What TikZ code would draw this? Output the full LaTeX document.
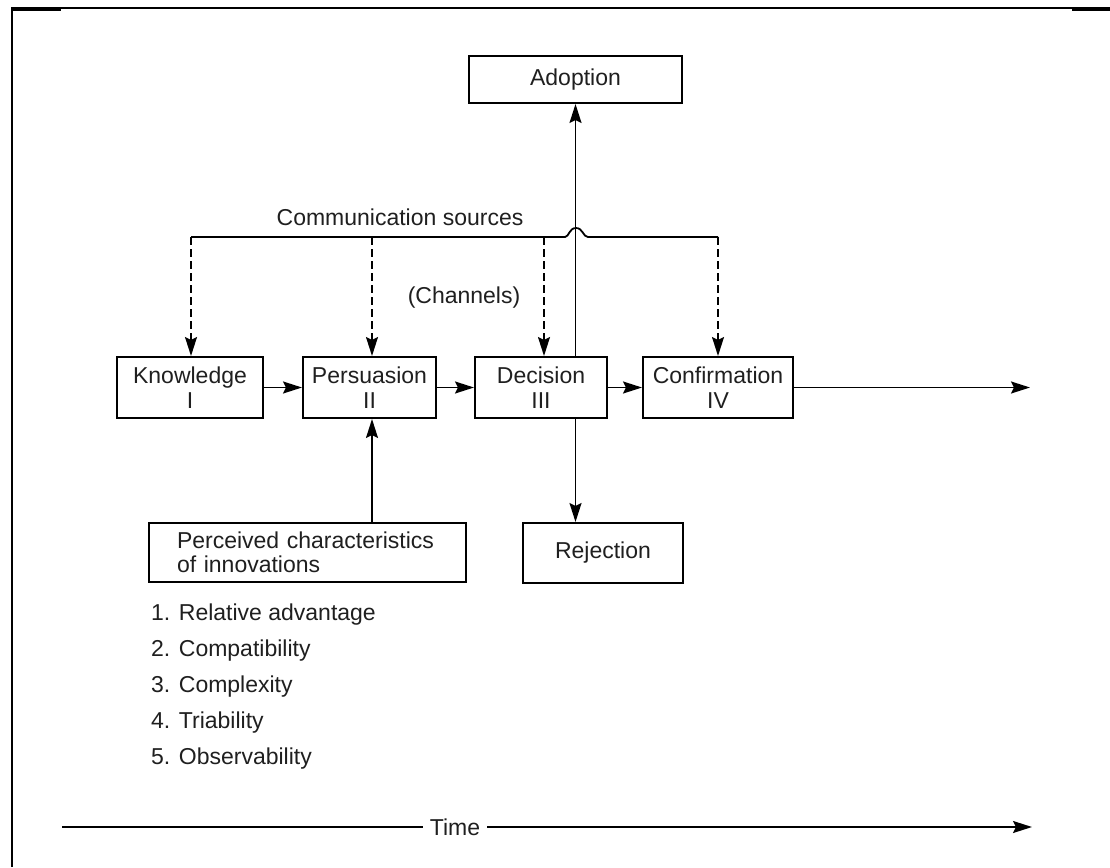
\documentclass[tikz,border=0pt]{standalone}
\usepackage{fontspec}
\setmainfont{Liberation Sans}
\usetikzlibrary{arrows.meta}
\begin{document}
\begin{tikzpicture}[x=1pt,y=-1pt,
  txt/.style={font=\fontsize{23}{25}\selectfont, text=black!88, inner sep=0},
  box/.style={txt, draw=black, line width=2pt, align=center, minimum height=61pt},
  ln/.style={line width=1.8pt},
  arr/.style={ln, -{Stealth[length=19pt,width=12pt,inset=3pt]}},
  dsh/.style={arr, dash pattern=on 8pt off 4pt}
]
\useasboundingbox (0,0) rectangle (1110,867);
% frame
\draw[line width=1.8pt] (12,867) -- (12,8) -- (1110,8);
\draw[line width=3pt] (12,9.5) -- (61,9.5);
\draw[line width=3pt] (1072,9.5) -- (1110,9.5);

% boxes
\node[box, minimum width=213pt, minimum height=47pt] (adopt) at (575.5,79.5) {Adoption};
\node[box, minimum width=146pt] (know) at (190,387.5) {Knowledge\\I};
\node[box, minimum width=133pt] (pers) at (369.5,387.5) {Persuasion\\II};
\node[box, minimum width=132pt] (dec) at (541,387.5) {Decision\\III};
\node[box, minimum width=150pt] (conf) at (718,387.5) {Confirmation\\IV};
\node[box, minimum width=160pt, minimum height=60pt] (rej) at (603,553) {Rejection};
\node[box, font=\fontsize{23}{23.5}\selectfont, align=left, minimum height=59pt, text width=261pt, inner xsep=28pt, inner ysep=0pt] (perc) at (307.5,552.5) {Perceived characteristics\\of innovations};

% labels
\node[txt] (comm) at (400,217) {Communication sources};
\node[txt] (chan) at (464,298) {(Channels)};
\node[txt, anchor=west] (l1) at (151,615) {1. Relative advantage};
\node[txt, anchor=west] (l2) at (151,651) {2. Compatibility};
\node[txt, anchor=west] (l3) at (151,687) {3. Complexity};
\node[txt, anchor=west] (l4) at (151,723) {4. Triability};
\node[txt, anchor=west] (l5) at (151,759) {5. Observability};

% communication line with jump
\coordinate (c1) at (191,237);
\coordinate (c2) at (372,237);
\coordinate (c3) at (544,237);
\coordinate (c4) at (718,237);
\draw[ln] (c1) -- (565,237) .. controls (569,237) and (569,228) .. (576,228)
  .. controls (583,228) and (583,237) .. (588,237) -- (c4);
\draw[dsh] (c1) -- (c1 |- know.north);
\draw[dsh] (c2) -- (c2 |- pers.north);
\draw[dsh] (c3) -- (c3 |- dec.north);
\draw[dsh] (c4) -- (c4 |- conf.north);

% main flow
\draw[arr] (know.east) -- (pers.west);
\draw[arr] (pers.east) -- (dec.west);
\draw[arr] (dec.east) -- (conf.west);
\coordinate (out) at (1030,387.5);
\draw[arr] (conf.east) -- (out);

% decision to adoption / rejection
\draw[arr] (adopt.south |- dec.north) -- (adopt.south);
\draw[arr] (adopt.south |- dec.south) -- (adopt.south |- rej.north);

% perceived characteristics to persuasion
\coordinate (pa) at (372,0);
\draw[arr] (pa |- perc.north) -- (pa |- pers.south);

% time axis
\coordinate (t0) at (62,827);
\node[txt, inner xsep=7pt] (time) at (455,827) {Time};
\coordinate (t1) at (1032,827);
\draw[ln] (t0) -- (time.west);
\draw[arr] (time.east) -- (t1);
\end{tikzpicture}
\end{document}
